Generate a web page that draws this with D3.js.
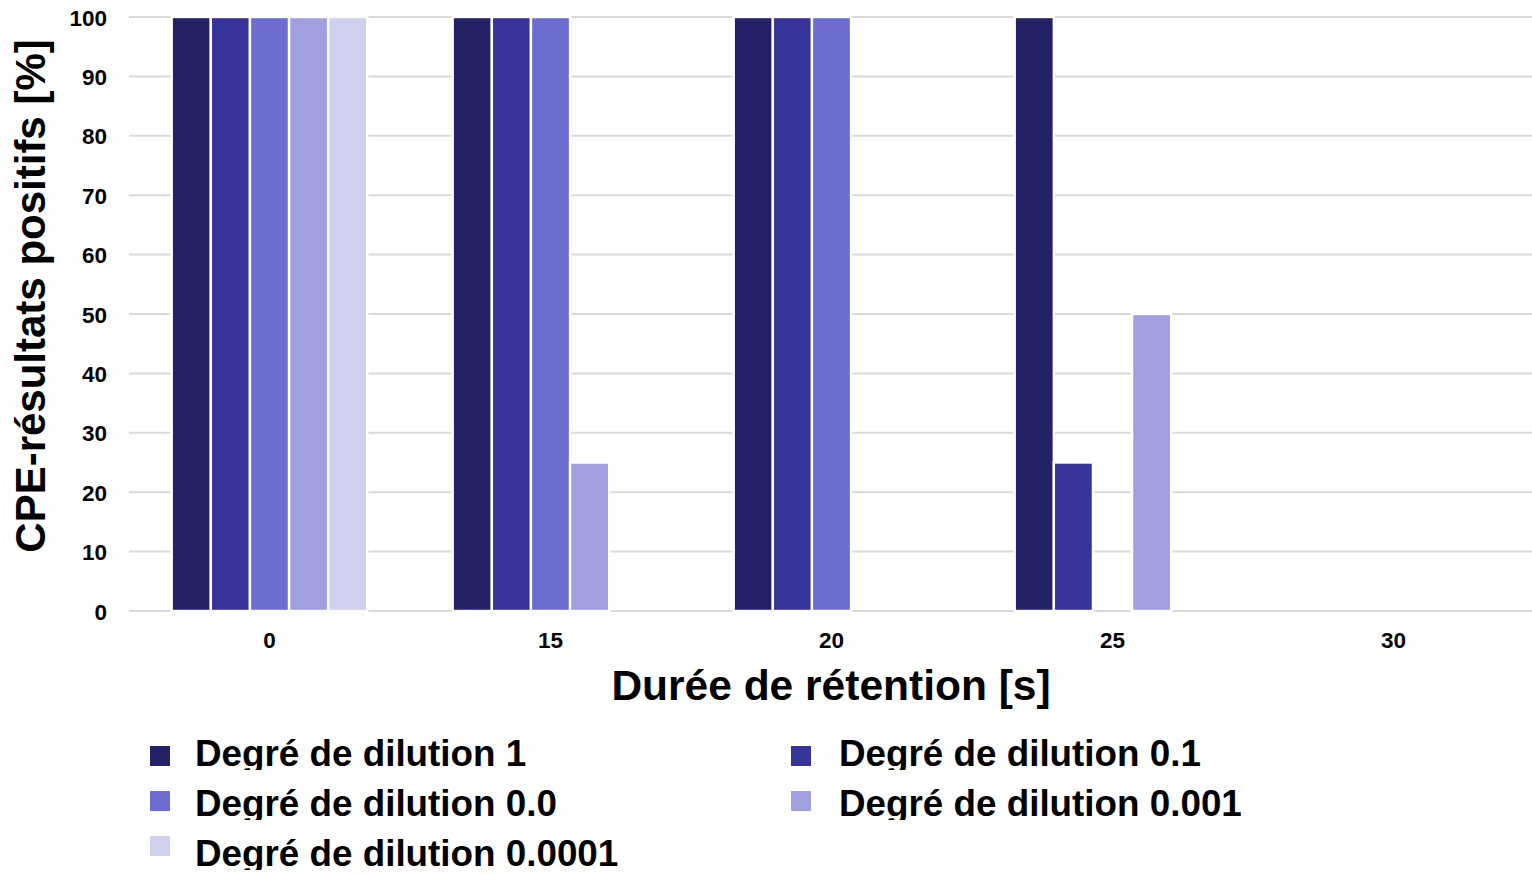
<!DOCTYPE html>
<html>
<head>
<meta charset="utf-8">
<script src="https://cdn.jsdelivr.net/npm/d3@7/dist/d3.min.js"></script>
<style>
  html, body { margin: 0; padding: 0; background: #fff; }
  svg { display: block; font-family: "Liberation Sans", Arial, Helvetica, sans-serif; font-weight: bold; }
</style>
</head>
<body>
<svg id="chart" width="1532" height="874"></svg>
<script>
// Retention time groups (x axis)
const categories = ["0", "15", "20", "25", "30"];
// Dilution series, in drawing order
const seriesNames = [
  "Degré de dilution 1",
  "Degré de dilution 0.1",
  "Degré de dilution 0.0",
  "Degré de dilution 0.001",
  "Degré de dilution 0.0001"
];
// Positive results [%] per series, one value per retention time
const dilution1     = [100, 100, 100, 100, 0];
const dilution01    = [100, 100, 100, 25, 0];
const dilution00    = [100, 100, 100, 0, 0];
const dilution0001  = [100, 25, 0, 50, 0];
const dilution00001 = [100, 0, 0, 0, 0];
const yTicks = [0, 10, 20, 30, 40, 50, 60, 70, 80, 90, 100];

const seriesValues = [dilution1, dilution01, dilution00, dilution0001, dilution00001];
const colors = ["#232266", "#363499", "#6d6dcf", "#a09fdf", "#cfcfee"];

const svg = d3.select("#chart");
const plot = { left: 129, right: 1534, top: 17, bottom: 611 };

const x0 = d3.scaleBand()
  .domain(categories)
  .range([plot.left, plot.right])
  .paddingInner(0.304)
  .paddingOuter(0.152);

const x1 = d3.scaleBand()
  .domain(d3.range(seriesNames.length))
  .range([0, x0.bandwidth()]);

const y = d3.scaleLinear().domain([0, 100]).range([plot.bottom, plot.top]);

// Horizontal gridlines
svg.append("g")
  .selectAll("line")
  .data(yTicks)
  .join("line")
  .attr("x1", plot.left)
  .attr("x2", 1532)
  .attr("y1", d => y(d))
  .attr("y2", d => y(d))
  .attr("stroke", "#d9d9d9")
  .attr("stroke-width", 2);

// Y axis tick labels
const yAxis = d3.axisLeft(y).tickValues(yTicks).tickSize(0).tickPadding(0);
const gy = svg.append("g")
  .attr("transform", `translate(${107},0)`)
  .call(yAxis);
gy.select(".domain").remove();
gy.selectAll("text")
  .attr("font-size", 22.5)
  .attr("font-weight", "bold")
  .attr("font-family", "Liberation Sans, Arial, sans-serif")
  .attr("fill", "#000")
  .attr("dy", "0.36em");

// X axis tick labels
const xAxis = d3.axisBottom(x0).tickSize(0).tickPadding(0);
const gx = svg.append("g")
  .attr("transform", `translate(0,${plot.bottom})`)
  .call(xAxis);
gx.select(".domain").remove();
gx.selectAll("text")
  .attr("font-size", 22.5)
  .attr("font-weight", "bold")
  .attr("font-family", "Liberation Sans, Arial, sans-serif")
  .attr("fill", "#000")
  .attr("y", 37)
  .attr("dy", 0);

// Bars
const rows = categories.map((c, i) => ({
  cat: c,
  vals: seriesValues.map((s, k) => ({ k, v: s[i] }))
}));

svg.append("g")
  .selectAll("g")
  .data(rows)
  .join("g")
  .attr("transform", d => `translate(${x0(d.cat)},0)`)
  .selectAll("rect")
  .data(d => d.vals.filter(e => e.v > 0))
  .join("rect")
  .attr("x", d => x1(d.k))
  .attr("width", x1.bandwidth())
  .attr("y", d => y(d.v))
  .attr("height", d => y(0) - y(d.v))
  .attr("fill", d => colors[d.k])
  .attr("stroke", "#fff")
  .attr("stroke-width", 2.4);

// Axis titles
svg.append("text")
  .attr("transform", `translate(45,${296}) rotate(-90)`)
  .attr("text-anchor", "middle")
  .attr("font-size", 42)
  .attr("fill", "#000")
  .text("CPE-résultats positifs [%]");

svg.append("text")
  .attr("x", 831)
  .attr("y", 700)
  .attr("text-anchor", "middle")
  .attr("font-size", 42.5)
  .attr("fill", "#000")
  .text("Durée de rétention [s]");

// Legend: two columns, each entry's text clipped just under its baseline
const legendItems = [
  { k: 0, sx: 150, sy: 746, tx: 195, ty: 766 },
  { k: 1, sx: 791, sy: 746, tx: 839, ty: 766 },
  { k: 2, sx: 150, sy: 791, tx: 195, ty: 816 },
  { k: 3, sx: 791, sy: 791, tx: 839, ty: 816 },
  { k: 4, sx: 150, sy: 836, tx: 195, ty: 866 }
];

const defs = svg.append("defs");
legendItems.forEach((d, i) => {
  defs.append("clipPath")
    .attr("id", "legclip" + i)
    .append("rect")
    .attr("x", d.tx - 5)
    .attr("y", d.ty - 40)
    .attr("width", 600)
    .attr("height", 44);
});

const leg = svg.append("g")
  .selectAll("g")
  .data(legendItems)
  .join("g");

leg.append("rect")
  .attr("x", d => d.sx)
  .attr("y", d => d.sy)
  .attr("width", 20)
  .attr("height", 20)
  .attr("fill", d => colors[d.k]);

leg.append("text")
  .attr("x", d => d.tx)
  .attr("y", d => d.ty)
  .attr("clip-path", (d, i) => `url(#legclip${i})`)
  .attr("font-size", 36.8)
  .attr("fill", "#000")
  .text(d => seriesNames[d.k]);
</script>
</body>
</html>
